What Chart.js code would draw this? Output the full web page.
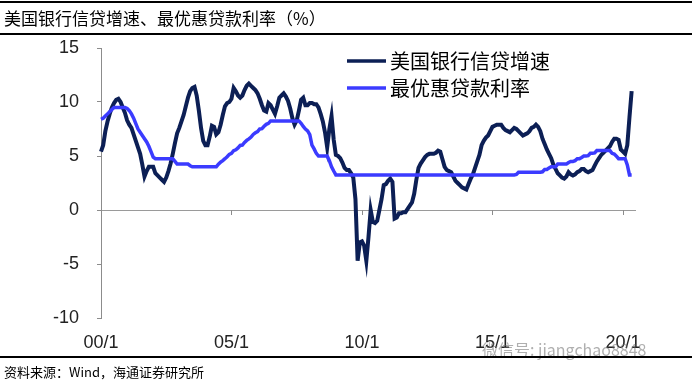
<!DOCTYPE html>
<html>
<head>
<meta charset="utf-8">
<script src="https://cdn.jsdelivr.net/npm/chart.js@4.4.1/dist/chart.umd.min.js"></script>
<style>
  html, body { margin: 0; padding: 0; background: #fff; }
  #wrap { position: relative; width: 692px; height: 383px; overflow: hidden; }
  #barCanvas { position: absolute; left: 0; top: 0; }
  .title {
    position: absolute; left: 0; top: 1px; width: 692px; height: 34px;
    box-sizing: border-box; border-top: 2px solid #000; border-bottom: 2px solid #000;
    padding-left: 4px; font: 17px "Noto Sans CJK SC"; line-height: 29px; color: #000;
  }
  .source {
    position: absolute; left: 0; top: 356px; width: 692px; height: 27px;
    box-sizing: border-box; border-top: 2px solid #000;
    padding-left: 4px; font: 13px "Noto Sans CJK SC"; line-height: 27px; color: #000;
  }
  .mark {
    position: absolute; left: 482px; top: 337px; font: 16px "Noto Sans CJK SC";
    color: rgba(110, 110, 110, 0.55); white-space: nowrap;
  }
</style>
</head>
<body>
<div id="wrap">
  <canvas id="barCanvas" width="692" height="383"></canvas>
  <div class="title">美国银行信贷增速、最优惠贷款利率（%）</div>
  <div class="mark">微信号: jiangchao8848</div>
  <div class="source">资料来源：Wind，海通证券研究所</div>
</div>
<script>
// monthly, 2000/01 .. 2020/05
const creditGrowth = [
  5.4, 6.0, 7.3, 8.2, 8.9, 9.5, 9.9, 10.2, 10.3, 10.0, 9.5, 9.0,
  8.3, 7.9, 7.6, 7.0, 6.4, 5.8, 5.2, 4.2, 3.1, 3.6, 4.0, 4.0,
  4.0, 3.4, 3.2, 3.0, 2.8, 2.6, 3.0, 3.6, 4.3, 5.2, 6.2, 7.1,
  7.6, 8.2, 8.8, 9.6, 10.4, 11.0, 11.3, 11.4, 10.6, 9.2, 7.6, 6.4,
  6.0, 6.0, 6.8, 7.8, 7.7, 7.0, 7.2, 7.9, 8.8, 9.6, 9.9, 10.0,
  10.3, 11.3, 11.0, 10.6, 10.4, 10.6, 11.1, 11.5, 11.7, 11.5, 11.3, 11.1,
  10.8, 10.3, 9.7, 9.2, 9.1, 9.9, 9.7, 9.3, 8.9, 9.6, 10.4, 10.6,
  10.8, 10.5, 10.1, 9.4, 8.5, 7.9, 8.3, 9.2, 10.2, 10.4, 9.7, 9.7,
  9.9, 9.9, 9.8, 9.8, 9.5, 8.9, 8.2, 7.2, 5.8, 7.5, 8.7, 6.5,
  5.1, 5.0, 4.8, 4.4, 3.9, 3.7, 3.7, 3.4, 3.0, 1.0, -4.7, -3.0,
  -2.9, -3.3, -4.7, -2.5, 0.0, -1.1, -1.2, -1.0, 0.0, 1.0, 2.3, 2.4,
  2.7, 2.9, 2.6, -0.8, -0.7, -0.3, -0.3, -0.2, -0.2, 0.1, 0.4, 0.7,
  1.5, 2.8, 3.9, 4.3, 4.6, 4.9, 5.1, 5.2, 5.2, 5.2, 5.3, 5.5,
  5.4, 4.7, 4.0, 3.7, 3.6, 3.5, 3.1, 2.7, 2.5, 2.3, 2.1, 2.0,
  1.9, 2.4, 2.9, 3.3, 3.9, 4.5, 5.1, 6.0, 6.4, 6.7, 6.9, 7.3,
  7.7, 7.8, 7.9, 7.9, 7.9, 7.6, 7.4, 7.3, 7.2, 7.4, 7.6, 7.5,
  7.3, 7.1, 6.9, 7.0, 7.1, 7.3, 7.6, 7.7, 7.9, 7.7, 7.3, 6.6,
  6.1, 5.6, 5.2, 4.8, 4.2, 3.8, 3.4, 3.2, 3.0, 2.9, 3.1, 3.5,
  3.3, 3.2, 3.3, 3.5, 3.6, 3.8, 3.8, 3.6, 3.5, 3.6, 3.7, 4.1,
  4.5, 4.8, 5.1, 5.3, 5.5, 5.7, 5.9, 6.3, 6.6, 6.6, 6.5, 5.6,
  5.4, 5.2, 6.0, 8.6, 11.0
];

const primeRate = [
  8.4, 8.5, 8.7, 8.9, 9.1, 9.3, 9.5, 9.5, 9.5, 9.5, 9.5, 9.5,
  9.4, 9.2, 8.9, 8.5, 8.0, 7.5, 7.2, 6.9, 6.6, 6.3, 5.9, 5.4,
  4.9, 4.75, 4.75, 4.75, 4.75, 4.75, 4.75, 4.75, 4.75, 4.75, 4.5, 4.25,
  4.25, 4.25, 4.25, 4.25, 4.25, 4.1, 4.0, 4.0, 4.0, 4.0, 4.0, 4.0,
  4.0, 4.0, 4.0, 4.0, 4.0, 4.0, 4.25, 4.43, 4.58, 4.75, 4.93, 5.15,
  5.25, 5.49, 5.58, 5.75, 5.98, 6.01, 6.25, 6.44, 6.59, 6.75, 7.0, 7.15,
  7.26, 7.5, 7.53, 7.75, 7.93, 8.02, 8.25, 8.25, 8.25, 8.25, 8.25, 8.25,
  8.25, 8.25, 8.25, 8.25, 8.25, 8.25, 8.25, 8.25, 8.03, 7.74, 7.5, 7.33,
  6.98, 6.0, 5.66, 5.24, 5.0, 5.0, 5.0, 5.0, 5.0, 4.56, 4.0, 3.61,
  3.25, 3.25, 3.25, 3.25, 3.25, 3.25, 3.25, 3.25, 3.25, 3.25, 3.25, 3.25,
  3.25, 3.25, 3.25, 3.25, 3.25, 3.25, 3.25, 3.25, 3.25, 3.25, 3.25, 3.25,
  3.25, 3.25, 3.25, 3.25, 3.25, 3.25, 3.25, 3.25, 3.25, 3.25, 3.25, 3.25,
  3.25, 3.25, 3.25, 3.25, 3.25, 3.25, 3.25, 3.25, 3.25, 3.25, 3.25, 3.25,
  3.25, 3.25, 3.25, 3.25, 3.25, 3.25, 3.25, 3.25, 3.25, 3.25, 3.25, 3.25,
  3.25, 3.25, 3.25, 3.25, 3.25, 3.25, 3.25, 3.25, 3.25, 3.25, 3.25, 3.25,
  3.25, 3.25, 3.25, 3.25, 3.25, 3.25, 3.25, 3.25, 3.25, 3.25, 3.25, 3.29,
  3.5, 3.5, 3.5, 3.5, 3.5, 3.5, 3.5, 3.5, 3.5, 3.5, 3.5, 3.54,
  3.75, 3.75, 3.88, 4.0, 4.0, 4.01, 4.25, 4.25, 4.25, 4.25, 4.25, 4.4,
  4.5, 4.5, 4.57, 4.75, 4.75, 4.87, 5.0, 5.0, 5.03, 5.25, 5.25, 5.28,
  5.5, 5.5, 5.5, 5.5, 5.5, 5.5, 5.5, 5.25, 5.18, 4.99, 4.75, 4.75,
  4.75, 4.75, 4.17, 3.25, 3.25
];

const seriesNames = ["美国银行信贷增速", "最优惠贷款利率"];
const tickLabels = ["00/1", "05/1", "10/1", "15/1", "20/1"];
const yTicks = [-10, -5, 0, 5, 10, 15];

// month categories, axis runs a little past the last point
const months = [];
for (let i = 0; i < 247; i++) {
  const y = 2000 + Math.floor(i / 12);
  months.push(y + "/" + ((i % 12) + 1));
}

const zeroTicks = {
  id: "zeroTicks",
  beforeDatasetsDraw(chart) {
    const x = chart.scales.x;
    const y0 = chart.scales.y.getPixelForValue(0);
    const ctx = chart.ctx;
    ctx.save();
    ctx.strokeStyle = "#8c8c8c";
    ctx.lineWidth = 1;
    tickLabels.forEach((t, k) => {
      const px = Math.round(x.getPixelForValue(k * 60)) + 0.5;
      ctx.beginPath();
      ctx.moveTo(px, y0);
      ctx.lineTo(px, y0 + 5);
      ctx.stroke();
    });
    ctx.restore();
  },
};

const legendBox = {
  id: "legendBox",
  afterDraw(chart) {
    const ctx = chart.ctx;
    ctx.save();
    chart.data.datasets.forEach((ds, i) => {
      const y = 61 + i * 27;
      ctx.strokeStyle = ds.borderColor;
      ctx.lineWidth = 3.5;
      ctx.beginPath();
      ctx.moveTo(347, y);
      ctx.lineTo(386, y);
      ctx.stroke();
      ctx.fillStyle = "#000";
      ctx.font = '20px "Noto Sans CJK SC"';
      ctx.textBaseline = "middle";
      ctx.fillText(ds.label, 390, y);
    });
    ctx.restore();
  },
};

const barCanvas = document.getElementById("barCanvas");

const lineChart = new Chart(barCanvas, {
  type: "line",
  data: {
    labels: months,
    datasets: [
      {
        label: seriesNames[0],
        data: creditGrowth,
        borderColor: "#0c1f55",
        borderWidth: 4,
        pointRadius: 0,
        tension: 0,
        order: 2,
      },
      {
        label: seriesNames[1],
        data: primeRate,
        borderColor: "#3b3bff",
        borderWidth: 3.5,
        pointRadius: 0,
        tension: 0,
        order: 1,
      },
    ],
  },
  options: {
    responsive: false,
    animation: false,
    layout: {
      padding: { top: 48, right: 56, bottom: 0, left: 0 },
    },
    scales: {
      x: {
        ticks: {
          autoSkip: false,
          maxRotation: 0,
          minRotation: 0,
          padding: 6,
          color: "#222",
          font: { family: "'Liberation Sans', Arial", size: 18 },
          callback: function (val, idx) {
            return idx % 60 === 0 ? tickLabels[idx / 60] : null;
          },
        },
        grid: {
          display: false,
        },
        border: {
          display: false,
        },
        afterFit: function (scale) {
          scale.height = 65;
        },
      },

      y: {
        min: -10,
        max: 15,
        afterBuildTicks: function (scale) {
          scale.ticks = yTicks.map((v) => ({ value: v }));
        },
        ticks: {
          padding: 18,
          color: "#222",
          font: { family: "'Liberation Sans', Arial", size: 18 },
        },
        grid: {
          drawOnChartArea: true,
          color: (c) => (c.tick && c.tick.value === 0 ? "#9a9a9a" : "rgba(0,0,0,0)"),
          tickColor: "#8c8c8c",
          tickLength: 4,
          lineWidth: 1,
        },
        border: {
          display: true,
          color: "#8c8c8c",
          width: 1,
        },
        afterFit: function (scale) {
          scale.width = 101;
        },
      },
    },

    plugins: {
      legend: {
        display: false,
      },
      tooltip: {
        enabled: false,
      },
    },
  },
  plugins: [zeroTicks, legendBox],
});
</script>
</body>
</html>
